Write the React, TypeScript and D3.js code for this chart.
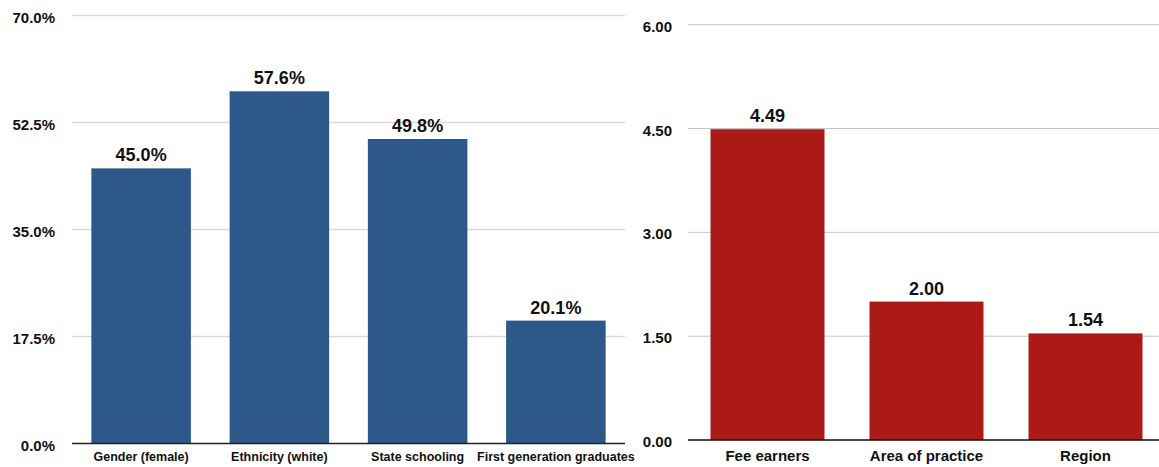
import React from "react";
import * as d3 from "d3";

const leftCategories = ["Gender (female)", "Ethnicity (white)", "State schooling", "First generation graduates"];
const leftValues = [45.0, 57.6, 49.8, 20.1];
const leftTicks = [0, 17.5, 35, 52.5, 70];

const rightCategories = ["Fee earners", "Area of practice", "Region"];
const rightValues = [4.49, 2.0, 1.54];
const rightTicks = [0, 1.5, 3, 4.5, 6];

const W = 1159;
const H = 467;
const FONT = "'Liberation Sans', Arial, Helvetica, sans-serif";

export default function App() {
  // Left chart scales
  const lx = d3.scaleBand<string>().domain(leftCategories).range([72, 625]).paddingInner(0.28).paddingOuter(0.14);
  const ly = d3.scaleLinear().domain([0, 70]).range([443.5, 15.5]);

  // Right chart scales
  const rx = d3.scaleBand<string>().domain(rightCategories).range([688, 1165]).paddingInner(0.283).paddingOuter(0.1415);
  const ry = d3.scaleLinear().domain([0, 6]).range([440, 24.7]);

  const pct = (v: number) => d3.format(".1f")(v) + "%";
  const dec = d3.format(".2f");

  return (
    <svg width={W} height={H} style={{ position: "absolute", left: 0, top: 0, background: "#fff" }} fontFamily={FONT}>
      {/* Left chart */}
      <g>
        {leftTicks.map((t) => (
          <g key={"lt" + t}>
            {t !== 0 && (
              <line x1={72} x2={625} y1={ly(t)} y2={ly(t)} stroke="#d9d9d9" strokeWidth={1.5} />
            )}
            <text x={55} y={ly(t)} dy={7} textAnchor="end" fontSize={15} fontWeight="bold" fill="#111">
              {pct(t)}
            </text>
          </g>
        ))}
        {leftCategories.map((c, i) => (
          <g key={"lb" + c}>
            <rect x={lx(c)} y={ly(leftValues[i])} width={lx.bandwidth()} height={ly(0) - ly(leftValues[i])} fill="#2e5889" />
            <text x={(lx(c) as number) + lx.bandwidth() / 2} y={ly(leftValues[i]) - 7} textAnchor="middle" fontSize={18} fontWeight="bold" fill="#111">
              {pct(leftValues[i])}
            </text>
            <text x={(lx(c) as number) + lx.bandwidth() / 2} y={461} textAnchor="middle" fontSize={12.5} fontWeight="bold" fill="#111">
              {c}
            </text>
          </g>
        ))}
        <line x1={72} x2={625} y1={ly(0)} y2={ly(0)} stroke="#222" strokeWidth={1.5} />
      </g>

      {/* Right chart */}
      <g>
        {rightTicks.map((t) => (
          <g key={"rt" + t}>
            {t !== 0 && (
              <line x1={688} x2={1165} y1={ry(t)} y2={ry(t)} stroke="#c4c4c4" strokeWidth={1} />
            )}
            <text x={672} y={ry(t)} dy={7} textAnchor="end" fontSize={15} fontWeight="bold" fill="#111">
              {dec(t)}
            </text>
          </g>
        ))}
        {rightCategories.map((c, i) => (
          <g key={"rb" + c}>
            <rect x={rx(c)} y={ry(rightValues[i])} width={rx.bandwidth()} height={ry(0) - ry(rightValues[i])} fill="#ab1a17" />
            <text x={(rx(c) as number) + rx.bandwidth() / 2} y={ry(rightValues[i]) - 7} textAnchor="middle" fontSize={18} fontWeight="bold" fill="#111">
              {dec(rightValues[i])}
            </text>
            <text x={(rx(c) as number) + rx.bandwidth() / 2} y={461} textAnchor="middle" fontSize={15} fontWeight="bold" fill="#111">
              {c}
            </text>
          </g>
        ))}
        <line x1={688} x2={1165} y1={ry(0)} y2={ry(0)} stroke="#111" strokeWidth={1.5} />
      </g>
    </svg>
  );
}
